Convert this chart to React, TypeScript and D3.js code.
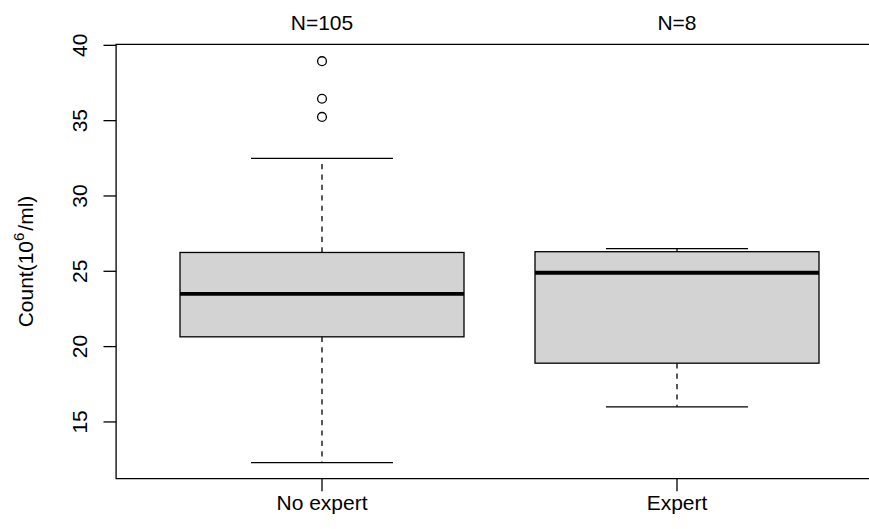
import React from "react";
import * as d3 from "d3";

const categories = ["No expert", "Expert"];
const counts = [105, 8];
const lowerWhisker = [12.3, 16.0];
const q1 = [20.65, 18.9];
const median = [23.5, 24.9];
const q3 = [26.25, 26.3];
const upperWhisker = [32.5, 26.5];
const outliers: number[][] = [[35.25, 36.45, 38.95], []];
const yTicks = [15, 20, 25, 30, 35, 40];

const W = 869;
const H = 529;
const FONT = "Liberation Sans, Arial, Helvetica, sans-serif";

export default function App() {
  const x = d3.scaleLinear().domain([0.42, 2.58]).range([116.1, 882.9]);
  const y = d3.scaleLinear().domain([11.232, 40.068]).range([478.7, 44.3]);
  const boxW = x(0.8) - x(0);
  const capW = boxW * 0.5;
  const left = x(0.42);
  const right = x(2.58);
  const top = y(40.068);
  const bottom = y(11.232);
  const lw = 1.3;

  return (
    <svg
      width={W}
      height={H}
      style={{ position: "absolute", left: 0, top: 0, background: "#fff" }}
      fontFamily={FONT}
    >
      {categories.map((c, i) => {
        const cx = x(i + 1);
        return (
          <g key={c}>
            {/* whiskers */}
            <line x1={cx} x2={cx} y1={y(q3[i])} y2={y(upperWhisker[i])} stroke="#000" strokeWidth={lw} strokeDasharray="5.2 5.2" />
            <line x1={cx} x2={cx} y1={y(q1[i])} y2={y(lowerWhisker[i])} stroke="#000" strokeWidth={lw} strokeDasharray="5.2 5.2" />
            <line x1={cx - capW / 2} x2={cx + capW / 2} y1={y(upperWhisker[i])} y2={y(upperWhisker[i])} stroke="#000" strokeWidth={lw} />
            <line x1={cx - capW / 2} x2={cx + capW / 2} y1={y(lowerWhisker[i])} y2={y(lowerWhisker[i])} stroke="#000" strokeWidth={lw} />
            {/* box */}
            <rect x={cx - boxW / 2} y={y(q3[i])} width={boxW} height={y(q1[i]) - y(q3[i])} fill="#D3D3D3" stroke="#000" strokeWidth={lw} />
            <line x1={cx - boxW / 2} x2={cx + boxW / 2} y1={y(median[i])} y2={y(median[i])} stroke="#000" strokeWidth={3.9} />
            {outliers[i].map((v, j) => (
              <circle key={j} cx={cx} cy={y(v)} r={4.4} fill="none" stroke="#000" strokeWidth={lw} />
            ))}
            {/* x tick + label */}
            <line x1={cx} x2={cx} y1={bottom} y2={bottom + 12.6} stroke="#000" strokeWidth={lw} />
            <text x={cx} y={510} textAnchor="middle" fontSize={21} fill="#000">{c}</text>
            <text x={cx} y={30} textAnchor="middle" fontSize={21} fill="#000">{`N=${counts[i]}`}</text>
          </g>
        );
      })}
      {/* frame: left, top, bottom */}
      <path d={`M${right},${top}H${left}V${bottom}H${right}`} fill="none" stroke="#000" strokeWidth={lw} />
      {/* y axis ticks */}
      {yTicks.map((t) => (
        <g key={t}>
          <line x1={left - 12.6} x2={left} y1={y(t)} y2={y(t)} stroke="#000" strokeWidth={lw} />
          <text transform={`translate(87.3,${y(t)}) rotate(-90)`} textAnchor="middle" fontSize={21} fill="#000">{t}</text>
        </g>
      ))}
      <text transform={`translate(33,${(top + bottom) / 2}) rotate(-90)`} textAnchor="middle" fontSize={21} fill="#000">
        <tspan>Count(10</tspan>
        <tspan fontSize={15} dy={-9}>6</tspan>
        <tspan dy={9} dx={2}>/ml)</tspan>
      </text>
    </svg>
  );
}
